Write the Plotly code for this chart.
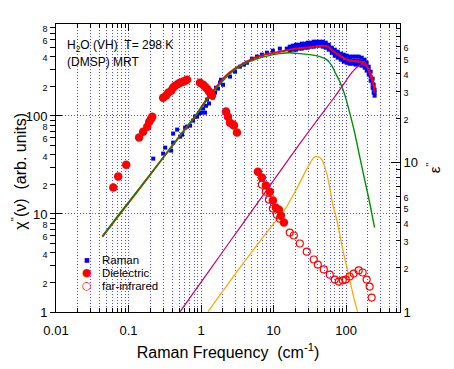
import plotly.graph_objects as go

# ---------------- data ----------------
# Raman chi'' (left axis), scattered low-frequency part
raman_freq = [0.219, 0.300, 0.320, 0.387, 0.412, 0.412, 0.468, 0.514, 0.548, 0.603, 0.641, 0.706,
              0.776, 0.826, 0.881, 0.938, 1.00, 1.066, 1.135, 1.172, 1.21, 1.288, 1.288, 1.373,
              1.462, 1.56, 1.607, 1.714, 1.824, 1.884, 2.009, 2.506, 2.937, 3.436, 3.90, 4.29,
              5.03, 5.89, 6.90, 8.09, 9.78, 12.2, 15.2]
raman_chi = [36.7, 41.3, 47.5, 44.3, 53.4, 66.1, 72.6, 61.5, 64.4, 76.0, 77.9, 79.7,
             89.6, 98.4, 98.4, 106, 108, 119, 108, 127, 147, 134, 165, 161,
             154, 173, 194, 190, 219, 234, 208, 252, 283, 318, 334, 349,
             384, 403, 422, 442, 463, 486, 486]

# Raman dense band (upper / middle / lower edge of the scatter)
band_freq = [16.7, 18.4, 20.3, 22.3, 24.5, 27.0, 29.6, 32.6, 35.8, 39.4, 43.4, 47.7, 52.4, 57.6,
             63.4, 69.7, 76.6, 84.3, 92.7, 101.9, 112, 123, 135, 149, 164, 180, 192, 205, 218,
             232, 240, 247]
band_upper = [509, 521, 533, 533, 546, 546, 559, 559, 572, 572, 572, 572, 559, 533, 497, 474, 453,
              432, 422, 412, 403, 403, 403, 403, 393, 375, 349, 318, 283, 240, 208, 185]
band_mid = [486, 497, 509, 509, 521, 521, 533, 533, 546, 546, 546, 533, 533, 509, 474, 442, 422,
            403, 393, 375, 375, 366, 366, 366, 358, 341, 318, 290, 252, 213, 190, 173]
band_lower = [463, 474, 474, 486, 486, 497, 497, 509, 509, 521, 521, 509, 497, 474, 442, 412, 393,
              375, 358, 349, 341, 341, 334, 334, 326, 311, 290, 264, 229, 194, 173, 161]

# total fit (red)
total_freq = [0.0435, 0.145, 0.514, 0.826, 1.135, 1.56, 2.138, 2.937, 4.03, 5.53, 7.59, 10.4, 14.3,
              19.6, 27.0, 37.0, 47.7, 55.8, 65.5, 81.7, 101.9, 123, 154, 180, 198, 225, 240, 247]
total_chi = [5.88, 18.6, 63.0, 98.4, 140, 190, 252, 304, 349, 393, 422, 442, 463,
             486, 497, 509, 521, 509, 463, 412, 375, 366, 358, 349, 311, 252, 208, 173]

# relaxation component (green)
relax_freq = [0.0435, 0.0769, 0.145, 0.273, 0.514, 0.826, 1.135, 1.56, 2.138, 2.937, 4.03, 5.53,
              7.59, 12.2, 16.7, 23.0, 31.6, 43.4, 54.1, 63.4, 71.9, 81.7, 95.7, 112, 131, 154,
              180, 211, 247]
relax_chi = [5.88, 10.3, 18.6, 34.2, 63.0, 98.4, 137, 185, 240, 297, 341, 375,
             403, 432, 442, 432, 422, 403, 375, 326, 270, 224, 165, 108, 67.6, 38.5,
             22.4, 13.1, 7.27]

# oscillator components
osc1_freq = [0.514, 0.968, 1.824, 3.436, 6.48, 12.2, 23.0, 43.4, 69.7, 95.7, 119.4, 144, 169,
             192, 211, 232, 247]
osc1_chi = [1.01, 1.95, 3.77, 7.27, 14.0, 27.1, 52.2, 98.4, 157, 219, 276, 318, 334,
            318, 264, 213, 173]
osc2_freq = [1.248, 3.436, 9.78, 14.3, 20.9, 27.0, 31.6, 35.8, 40.7, 46.2, 54.1, 59.5, 65.5,
             74.3, 81.7, 89.8, 101.9, 112, 123, 135, 144]
osc2_chi = [1.01, 2.84, 7.80, 11.1, 18.2, 26.4, 32.6, 37.6, 38.5, 35.9, 25.8, 18.6, 12.5,
            8.77, 6.17, 4.34, 2.91, 2.14, 1.58, 1.19, 1.01]

# dielectric loss eps'' (right axis)
diel_freq = [0.0617, 0.0721, 0.0929, 0.140, 0.159, 0.181, 0.193, 0.205, 0.212,
             0.300, 0.330, 0.352, 0.387, 0.412, 0.439, 0.483, 0.514, 0.565, 0.603, 0.641,
             0.968, 1.066, 1.135, 1.21, 1.288, 1.373, 1.416,
             2.208, 2.35, 2.506, 2.754, 2.844, 3.126,
             6.08, 6.90, 7.83, 8.89, 9.78, 10.76, 11.83, 12.6, 13.9]
diel_eps = [6.83, 8.10, 9.74, 14.8, 16.2, 17.5, 18.9, 19.8, 20.4,
            27.4, 28.3, 29.6, 30.5, 32.0, 33.0, 34.0, 34.5, 35.1, 35.6, 36.2,
            34.5, 33.5, 32.4, 31.5, 30.1, 29.2, 28.3,
            22.1, 20.4, 18.6, 18.1, 17.8, 16.0,
            8.74, 7.97, 7.05, 6.41, 5.59, 5.01, 4.86, 4.43, 3.98]

# far-infrared eps'' (right axis)
fir_freq = [6.90, 7.83, 8.61, 9.78, 11.1, 12.2, 16.7, 19.0, 23.0, 28.7, 35.8, 40.7, 49.2, 59.5,
            69.7, 79.1, 89.8, 98.7, 112, 127, 149, 169, 192, 211, 225]
fir_eps = [7.16, 6.41, 5.68, 4.94, 4.50, 4.23, 3.41, 3.26, 2.88, 2.54, 2.25, 2.08, 1.93, 1.78,
           1.65, 1.60, 1.63, 1.65, 1.73, 1.81, 1.90, 1.84, 1.65, 1.48, 1.25]

# tick values
x_major = [0.01, 0.1, 1, 10, 100]
x_labels = ["0.01", "0.1", "1", "10", "100"]
x_minor = [m * d for d in (0.01, 0.1, 1, 10) for m in range(2, 10)] + [200, 300, 400, 500]

# legend entries (name, glyph, glyph colour, glyph size)
legend_items = [("Raman", "■", "#0000ff", 6),
                ("Dielectric", "●", "#ff0000", 11),
                ("far-infrared", "○", "#ff0000", 11)]


def small(s):
    return '<span style="font-size:9px">' + s + '</span>'


y_vals, y_text = [], []
for d in (1, 10, 100):
    for m in range(1, 10):
        y_vals.append(m * d)
        if m == 1:
            y_text.append(str(d))
        elif m in (2, 4, 6, 8):
            y_text.append(small(str(m)))
        else:
            y_text.append(" ")

y2_vals, y2_text = [], []
for d in (1, 10):
    for m in range(1, 10):
        y2_vals.append(m * d)
        if m == 1:
            y2_text.append(str(d))
        elif m in (2, 3, 4, 5, 6):
            y2_text.append(small(str(m)))
        else:
            y2_text.append(" ")

FONT = "Arial, Liberation Sans, sans-serif"
GRID = "#4f4fff"
GRIDDASH = "1px,2px"

fig = go.Figure()

# Raman
fig.add_trace(go.Scatter(
    x=raman_freq + band_freq + band_freq + band_freq,
    y=raman_chi + band_upper + band_mid + band_lower,
    mode="markers", name="Raman",
    marker=dict(symbol="square", size=4, color="#0000ff", line=dict(width=0)),
))
# fits
fig.add_trace(go.Scatter(x=total_freq, y=total_chi, mode="lines",
                         line=dict(color="#ff0000", width=2, shape="spline", smoothing=0.6)))
fig.add_trace(go.Scatter(x=relax_freq, y=relax_chi, mode="lines",
                         line=dict(color="#009000", width=1.4, shape="spline", smoothing=0.6)))
fig.add_trace(go.Scatter(x=osc1_freq, y=osc1_chi, mode="lines",
                         line=dict(color="#cc0066", width=1.2, shape="spline", smoothing=0.6)))
fig.add_trace(go.Scatter(x=osc2_freq, y=osc2_chi, mode="lines",
                         line=dict(color="#ffaa00", width=1.3, shape="spline", smoothing=0.6)))
# dielectric / far-IR on eps'' axis
fig.add_trace(go.Scatter(x=diel_freq, y=diel_eps, mode="markers", name="Dielectric", yaxis="y2",
                         marker=dict(symbol="circle", size=8.5, color="#ff0000",
                                     line=dict(width=0))))
fig.add_trace(go.Scatter(x=fir_freq, y=fir_eps, mode="markers", name="far-infrared", yaxis="y2",
                         marker=dict(symbol="circle-open", size=7, color="#ff0000",
                                     line=dict(width=1.2, color="#ff0000"))))

annotations = [
    dict(text="H<sub>2</sub>O (VH)&nbsp;&nbsp;T= 298 K", x=0.026, y=0.922, xref="paper",
         yref="paper", xanchor="left", yanchor="middle", showarrow=False, font=dict(size=12)),
    dict(text="(DMSP) MRT", x=0.026, y=0.868, xref="paper", yref="paper",
         xanchor="left", yanchor="middle", showarrow=False, font=dict(size=12)),
    # left axis title (placed as rotated text so it can sit near the page edge)
    dict(text="χ<sup>''</sup>(ν)&nbsp;&nbsp;(arb. units)", x=-0.108, y=0.49, xref="paper",
         yref="paper", xanchor="center", yanchor="middle", textangle=-90, showarrow=False,
         font=dict(size=16)),
]
legend_y = [0.182, 0.137, 0.092]
for (name, glyph, col, gsize), ly in zip(legend_items, legend_y):
    annotations.append(dict(text=glyph, x=0.090, y=ly, xref="paper", yref="paper",
                            xanchor="center", yanchor="middle", showarrow=False,
                            font=dict(size=gsize, color=col, family="DejaVu Sans")))
    annotations.append(dict(text=name, x=0.128, y=ly, xref="paper", yref="paper",
                            xanchor="left", yanchor="middle", showarrow=False,
                            font=dict(size=11.5)))

# the page body keeps its default 8px margin, so the figure is drawn 8px in
# from the top-left corner of the window; size it to fit without overflow
fig.update_layout(
    width=438, height=353,
    margin=dict(l=48, r=46, t=16, b=49, pad=0),
    paper_bgcolor="white", plot_bgcolor="white",
    font=dict(family=FONT, size=13, color="black"),
    showlegend=False,
    xaxis=dict(
        type="log", range=[-2, 2.743], automargin=False,
        tickmode="array", tickvals=x_major, ticktext=x_labels,
        ticks="inside", ticklen=7, tickwidth=1, tickcolor="black",
        showline=True, linecolor="black", linewidth=1, mirror="ticks",
        showgrid=True, gridcolor=GRID, griddash=GRIDDASH, gridwidth=1,
        tickfont=dict(size=13), ticklabelstandoff=6,
        minor=dict(tickmode="array", tickvals=x_minor, ticks="inside", ticklen=4,
                   tickcolor="black", showgrid=True, gridcolor=GRID, griddash=GRIDDASH),
        title=dict(text="Raman Frequency&nbsp;&nbsp;(cm<sup>-1</sup>)", font=dict(size=16),
                   standoff=14),
        zeroline=False,
    ),
    yaxis=dict(
        type="log", range=[0, 2.938], automargin=False,
        tickmode="array", tickvals=y_vals, ticktext=y_text,
        ticks="outside", ticklen=5, tickcolor="black",
        showline=True, linecolor="black", linewidth=1,
        showgrid=False, tickfont=dict(size=13),
        minor=dict(tickmode="array", tickvals=[1, 10, 100], ticks="inside", ticklen=6,
                   tickcolor="black", showgrid=True, gridcolor=GRID, griddash=GRIDDASH),
        zeroline=False,
    ),
    yaxis2=dict(
        type="log", range=[0, 1.932], overlaying="y", side="right", automargin=False,
        tickmode="array", tickvals=y2_vals, ticktext=y2_text,
        ticks="inside", ticklen=4, tickcolor="black",
        showline=True, linecolor="black", linewidth=1,
        showgrid=False, tickfont=dict(size=13),
        minor=dict(tickmode="array", tickvals=[1, 10], ticks="inside", ticklen=9,
                   tickcolor="black", showgrid=False),
        title=dict(text="ε<sup>''</sup>", font=dict(size=15), standoff=12),
        zeroline=False,
    ),
    annotations=annotations,
)

fig.write_html("out.html")
